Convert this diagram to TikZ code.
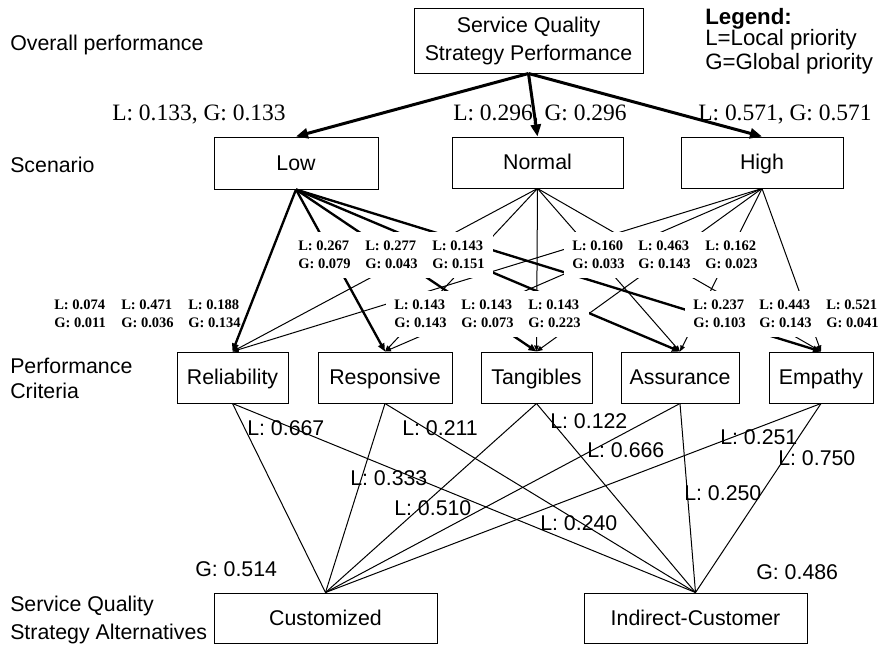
\documentclass[tikz,border=0pt]{standalone}
\usepackage{fontspec}
\setmainfont{Liberation Serif}
\setsansfont{Liberation Sans}
\usetikzlibrary{arrows.meta}

\begin{document}
\begin{tikzpicture}[x=0.75pt,y=-0.75pt,
  box/.style={draw, line width=0.75pt, inner sep=0pt, align=center,
    font=\sffamily\fontsize{16}{21}\selectfont},
  onebox/.style={box, text height=12pt, text depth=1pt},
  side/.style={anchor=base west, inner sep=0pt,
    font=\sffamily\fontsize{16}{19}\selectfont},
  legtext/.style={side, font=\sffamily\fontsize{16.7}{19}\selectfont},
  legbold/.style={side, font=\sffamily\bfseries\fontsize{16.7}{19}\selectfont},
  toplab/.style={anchor=base west, inner sep=0pt,
    font=\rmfamily\fontsize{17.6}{20}\selectfont},
  prio/.style={anchor=west, fill=white, inner xsep=6pt, inner ysep=0pt,
    minimum height=34.5pt, align=left,
    font=\rmfamily\bfseries\fontsize{10.9}{13.5}\selectfont},
  mainarrow/.style={line width=2.25pt, -{Triangle[length=9pt,width=7.5pt]}},
  heavy/.style={line width=1.75pt, -{Triangle[length=6pt,width=5pt]}},
  light/.style={line width=0.75pt, -{Triangle[length=4.5pt,width=3.5pt]}},
  plain/.style={line width=0.75pt}
]
\useasboundingbox (0,0) rectangle (879,644);

% ---------- level captions ----------
\node[side] (capoverall) at (10,50.5) {Overall performance};
\node[side] (capscen) at (10,172.5) {Scenario};
\node[side] (capcrit1) at (10,373.5) {Performance};
\node[side] (capcrit2) at (10,398.5) {Criteria};
\node[side] (capalt1) at (10,611.5) {Service Quality};
\node[side] (capalt2) at (10,639.5) {Strategy Alternatives};

% ---------- legend ----------
\node[legbold] (leg0) at (705,24.5) {Legend:};
\node[legtext] (leg1) at (705,45.5) {L=Local priority};
\node[legtext] (leg2) at (705,69.5) {G=Global priority};

% ---------- goal ----------
\node[box, minimum width=171.75pt, minimum height=48.75pt] (goal) at (528.5,40.5)
  {Service Quality\\Strategy Performance};

% ---------- scenarios ----------
\node[onebox, minimum width=123pt, minimum height=39pt] (low) at (296,163) {Low};
\node[onebox, minimum width=128.25pt, minimum height=38.25pt] (normal) at (537.5,162.5) {Normal};
\node[onebox, minimum width=121.5pt, minimum height=38.25pt] (high) at (762,162.5) {High};

% ---------- criteria ----------
\node[onebox, minimum width=83.25pt, minimum height=38.25pt] (rel) at (232.5,377.5) {Reliability};
\node[onebox, minimum width=100.5pt, minimum height=38.25pt] (res) at (385,377.5) {Responsive};
\node[onebox, minimum width=83.25pt, minimum height=38.25pt] (tan) at (536.5,377.5) {Tangibles};
\node[onebox, minimum width=88.5pt, minimum height=38.25pt] (ass) at (680,377.5) {Assurance};
\node[onebox, minimum width=78pt, minimum height=38.25pt] (emp) at (821,377.5) {Empathy};

% ---------- alternatives ----------
\node[onebox, minimum width=167.25pt, minimum height=37.5pt] (cust) at (325.5,618) {Customized};
\node[onebox, minimum width=167.25pt, minimum height=37.5pt] (indc) at (695.5,618) {Indirect-Customer};

% ---------- goal to scenarios ----------
\draw[mainarrow] (goal.south) -- (low.north);
\draw[mainarrow] (goal.south) -- (normal.north);
\draw[mainarrow] (goal.south) -- (high.north);
\node[toplab] (w133) at (112,120) {L: 0.133, G: 0.133};
\node[toplab] (w296) at (453,120) {L: 0.296, G: 0.296};
\node[toplab] (w571) at (698,120) {L: 0.571, G: 0.571};

% ---------- scenarios to criteria ----------
\foreach \c in {res,tan,ass,emp}{
  \draw[heavy] (low.south) -- (\c.north);
}
\foreach \c in {rel,res,tan,ass,emp}{
  \draw[light] (normal.south) -- (\c.north);
  \draw[light] (high.south) -- (\c.north);
}

% priority labels, white boxes laid over the connectors
\node[prio] (p1a) at (290,255) {L: 0.267\\G: 0.079};
\node[prio] (p1b) at (357,255) {L: 0.277\\G: 0.043};
\node[prio] (p1c) at (424,255) {L: 0.143\\G: 0.151};
\node[prio] (p1d) at (564,255) {L: 0.160\\G: 0.033};
\node[prio] (p1e) at (630,255) {L: 0.463\\G: 0.143};
\node[prio] (p1f) at (697,255) {L: 0.162\\G: 0.023};

\node[prio] (p2a) at (46,314) {L: 0.074\\G: 0.011};
\node[prio] (p2b) at (113,314) {L: 0.471\\G: 0.036};
\node[prio] (p2c) at (180,314) {L: 0.188\\G: 0.134};
\node[prio] (p2d) at (386,314) {L: 0.143\\G: 0.143};
\node[prio] (p2e) at (453,314) {L: 0.143\\G: 0.073};
\node[prio] (p2f) at (520,314) {L: 0.143\\G: 0.223};
\node[prio] (p2g) at (685,314) {L: 0.237\\G: 0.103};
\node[prio] (p2h) at (751,314) {L: 0.443\\G: 0.143};
\node[prio] (p2i) at (818,314) {L: 0.521\\G: 0.041};

% Low to Reliability runs past the label column, unbroken
\draw[heavy] (low.south) -- (rel.north);

% ---------- criteria to alternatives ----------
\foreach \c in {rel,res,tan,ass,emp}{
  \draw[plain] (\c.south) -- (cust.north);
  \draw[plain] (\c.south) -- (indc.north);
}

\node[side] (l667) at (247,435.5) {L: 0.667};
\node[side] (l211) at (402,435.5) {L: 0.211};
\node[side] (l333) at (350,485.5) {L: 0.333};
\node[side] (l510) at (394,515.5) {L: 0.510};
\node[side] (l122) at (550,428.5) {L: 0.122};
\node[side] (l666) at (587,457.5) {L: 0.666};
\node[side] (l251) at (720,444.5) {L: 0.251};
\node[side] (l750) at (778,465.5) {L: 0.750};
\node[side] (l250) at (684,500.5) {L: 0.250};
\node[side] (l240) at (540,530.5) {L: 0.240};

\node[side] (g514) at (195,576.5) {G: 0.514};
\node[side] (g486) at (756,579.5) {G: 0.486};
\end{tikzpicture}
\end{document}
